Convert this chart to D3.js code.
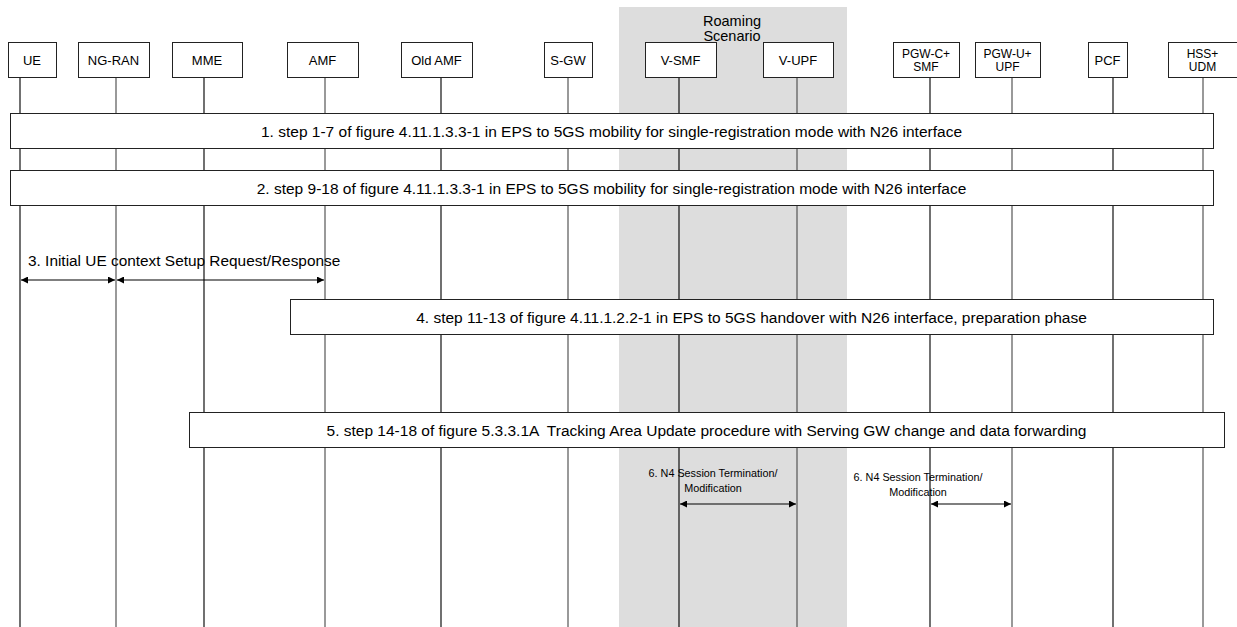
<!DOCTYPE html>
<html>
<head>
<meta charset="utf-8">
<script src="https://cdn.jsdelivr.net/npm/d3@7"></script>
<style>
  body { margin: 0; background: #fff; }
  text { font-family: "Liberation Sans", Arial, sans-serif; fill: #000; white-space: pre; }
</style>
</head>
<body>
<script>
// Participants, left to right
var actors = ["UE", "NG-RAN", "MME", "AMF", "Old AMF", "S-GW", "V-SMF", "V-UPF", "PGW-C+\nSMF", "PGW-U+\nUPF", "PCF", "HSS+\nUDM"];

// Procedure boxes: label, first actor, last actor
var stepLabels = [
  "1. step 1-7 of figure 4.11.1.3.3-1 in EPS to 5GS mobility for single-registration mode with N26 interface",
  "2. step 9-18 of figure 4.11.1.3.3-1 in EPS to 5GS mobility for single-registration mode with N26 interface",
  "4. step 11-13 of figure 4.11.1.2.2-1 in EPS to 5GS handover with N26 interface, preparation phase",
  "5. step 14-18 of figure 5.3.3.1A  Tracking Area Update procedure with Serving GW change and data forwarding"
];
var stepFrom = ["UE", "UE", "AMF", "MME"];
var stepTo = ["HSS+\nUDM", "HSS+\nUDM", "HSS+\nUDM", "HSS+\nUDM"];

// Messages (double headed arrows)
var msgFrom = ["UE", "NG-RAN", "V-SMF", "PGW-C+\nSMF"];
var msgTo = ["NG-RAN", "AMF", "V-UPF", "PGW-U+\nUPF"];
var msgLabels = [
  "3. Initial UE context Setup Request/Response",
  "",
  "6. N4 Session Termination/\nModification",
  "6. N4 Session Termination/\nModification"
];

var shadeLabel = "Roaming\nScenario";

var W = 1237, H = 627;

var svg = d3.select("body").append("svg")
    .attr("width", W)
    .attr("height", H);

// lifeline x per actor
var lifeX = d3.scaleOrdinal()
    .domain(actors)
    .range([20, 116, 204, 325, 441, 568, 679, 797, 930, 1012, 1113, 1203]);

// header box left edge and width
var boxX = d3.scaleOrdinal().domain(actors)
    .range([8, 78, 172, 287, 401, 544, 645, 763, 893, 975, 1088, 1168]);
var boxW = d3.scaleOrdinal().domain(actors)
    .range([48, 71, 70, 71, 71, 48, 71, 70, 66, 65, 39, 69]);

//Roaming shading
svg.append("rect")
    .attr("x", 619).attr("y", 7)
    .attr("width", 228).attr("height", H - 7)
    .attr("fill", "#dddddd");

var sl = shadeLabel.split("\n");
svg.selectAll(".shadeText").data(sl).enter().append("text")
    .attr("x", 732)
    .attr("y", function(d, i) { return 26 + i * 14.5; })
    .attr("text-anchor", "middle")
    .attr("font-size", "14.5px")
    .text(function(d) { return d; });

//Lifelines
svg.selectAll(".life").data(actors).enter().append("line")
    .attr("x1", function(d) { return lifeX(d); })
    .attr("x2", function(d) { return lifeX(d); })
    .attr("y1", 77).attr("y2", H)
    .attr("stroke", function(d, i) { return i % 2 ? "#555" : "#111"; })
    .attr("stroke-width", 1.2);

//Header boxes
var head = svg.selectAll(".head").data(actors).enter().append("g");
head.append("rect")
    .attr("x", function(d) { return boxX(d) + 0.5; })
    .attr("y", 42.5)
    .attr("width", function(d) { return boxW(d); })
    .attr("height", 35)
    .attr("fill", "#fff")
    .attr("stroke", "#222");
head.each(function(d) {
    var lines = d.split("\n");
    var g = d3.select(this);
    var cx = boxX(d) + boxW(d) / 2;
    lines.forEach(function(l, i) {
        g.append("text")
            .attr("x", cx)
            .attr("y", 65 - (lines.length - 1) * 7 + i * 12.5)
            .attr("text-anchor", "middle")
            .attr("font-size", lines.length > 1 ? "12px" : "13px")
            .text(l);
    });
});

// Step boxes
var stepY = [113, 170, 299, 412];
var padL = [10, 10, 35, 15];
var padR = [10, 10, 10, 21];
stepLabels.forEach(function(lab, i) {
    var x0 = lifeX(stepFrom[i]) - padL[i];
    var x1 = lifeX(stepTo[i]) + padR[i];
    svg.append("rect")
        .attr("x", x0 + 0.5).attr("y", stepY[i] + 0.5)
        .attr("width", x1 - x0).attr("height", 35)
        .attr("fill", "#fff")
        .attr("stroke", "#222");
    svg.append("text")
        .attr("x", (x0 + x1) / 2)
        .attr("y", stepY[i] + 23.5)
        .attr("text-anchor", "middle")
        .attr("font-size", "15.5px")
        .text(lab);
});

// arrowheads
var defs = svg.append("defs");
defs.append("marker")
    .attr("id", "ah")
    .attr("viewBox", "0 0 10 10")
    .attr("refX", 10).attr("refY", 5)
    .attr("markerWidth", 10).attr("markerHeight", 7)
    .attr("markerUnits", "userSpaceOnUse")
    .attr("orient", "auto-start-reverse")
    .append("path")
    .attr("d", "M0,0L10,5L0,10Z")
    .attr("fill", "#000");

// Messages
var msgY = [280, 280, 504, 504];
var labX = [28, 0, 713, 918];
var labY = [266, 0, 477, 481];
msgFrom.forEach(function(f, i) {
    svg.append("line")
        .attr("x1", lifeX(f) + 1).attr("x2", lifeX(msgTo[i]) - 1)
        .attr("y1", msgY[i]).attr("y2", msgY[i])
        .attr("stroke", "#000")
        .attr("stroke-width", 1.2)
        .attr("marker-start", "url(#ah)")
        .attr("marker-end", "url(#ah)");
    if (!msgLabels[i]) return;
    var lines = msgLabels[i].split("\n");
    lines.forEach(function(l, j) {
        svg.append("text")
            .attr("x", labX[i])
            .attr("y", labY[i] + j * 14.5)
            .attr("text-anchor", i == 0 ? "start" : "middle")
            .attr("font-size", i == 0 ? "15.4px" : "10.8px")
            .text(l);
    });
});
</script>
</body>
</html>
